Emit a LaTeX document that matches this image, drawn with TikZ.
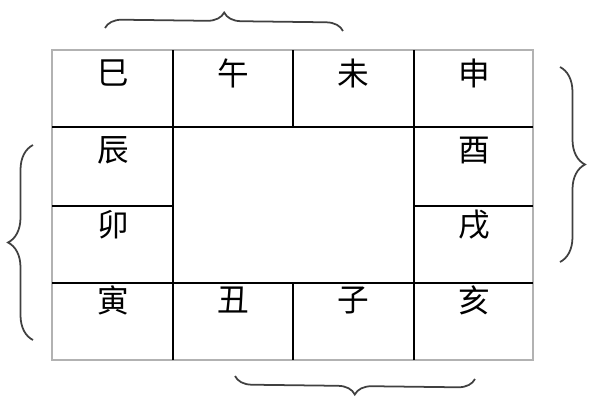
\documentclass[tikz,border=0pt]{standalone}
\usepackage{fontspec}
\newfontfamily\cjk{Noto Sans CJK SC}
\usetikzlibrary{decorations.pathreplacing}
\tikzset{
  zhi/.style={font=\cjk\fontsize{9}{10}\selectfont, inner sep=0pt},
  rahmen/.style={draw=black!30, line width=0.4pt},
  linie/.style={draw=black, line width=0.6pt},
  klammer/.style={draw=black!75, line width=0.5pt, decorate,
    decoration={brace, amplitude=#1}},
}

\begin{document}
\begin{tikzpicture}
\useasboundingbox (0,0) rectangle (6,4);
% Rahmen
\draw[rahmen] (0.52,0.40) rectangle (5.33,3.50);
% Linien
\draw[linie] (0.52,2.73) -- (5.33,2.73);
\draw[linie] (0.52,1.17) -- (5.33,1.17);
\draw[linie] (0.52,1.94) -- (1.73,1.94);
\draw[linie] (4.14,1.94) -- (5.33,1.94);
\draw[linie] (1.73,0.40) -- (1.73,3.50);
\draw[linie] (4.14,0.40) -- (4.14,3.50);
\draw[linie] (2.93,3.50) -- (2.93,2.73);
\draw[linie] (2.93,1.17) -- (2.93,0.40);
% Zeichen
\foreach \name/\x/\y/\txt in {si/1.13/3.27/巳, wu/2.33/3.27/午, wei/3.53/3.27/未, shen/4.74/3.27/申,
  chen/1.13/2.50/辰, you/4.74/2.50/酉, mao/1.13/1.75/卯, xu/4.74/1.75/戌,
  yin/1.13/1.00/寅, chou/2.33/1.00/丑, zi/3.53/1.00/子, hai/4.74/1.00/亥}
  \node[zhi] (\name) at (\x,\y) {\txt};
% Klammern
\coordinate (oben a) at (1.05,3.72);
\coordinate (oben b) at (3.43,3.69);
\coordinate (unten a) at (4.75,0.21);
\coordinate (unten b) at (2.35,0.24);
\coordinate (rechts a) at (5.60,3.33);
\coordinate (rechts b) at (5.60,1.38);
\coordinate (links a) at (0.33,0.60);
\coordinate (links b) at (0.33,2.55);
\draw[klammer=0.17cm] (oben a) -- (oben b);
\draw[klammer=0.17cm] (unten a) -- (unten b);
\draw[klammer=0.25cm] (rechts a) -- (rechts b);
\draw[klammer=0.25cm] (links a) -- (links b);
\end{tikzpicture}
\end{document}
